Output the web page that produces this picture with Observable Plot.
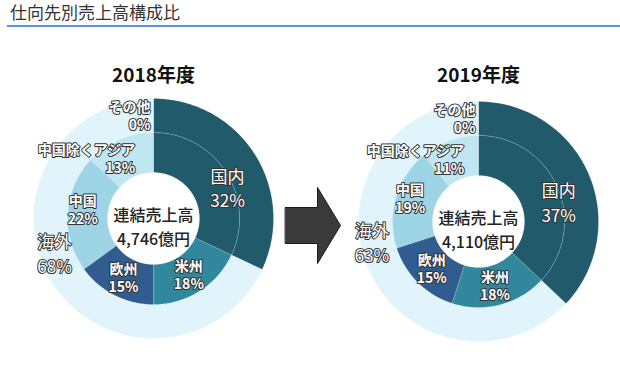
<!DOCTYPE html>
<html><head><meta charset="utf-8">
<script src="https://cdn.jsdelivr.net/npm/d3@7"></script>
<script src="https://cdn.jsdelivr.net/npm/@observablehq/plot@0.6"></script>
<style>
body{margin:0;background:#fff;font-family:"Noto Sans CJK JP",sans-serif;}
#title{height:27px;box-sizing:border-box;border-bottom:2px solid #5f93d6;margin-left:7px;padding-left:3px;font-size:17px;line-height:24px;color:#333;}
#chart svg{display:block;}
</style></head>
<body>
<div id="title">仕向先別売上高構成比</div>
<div id="chart"></div>
<script>
// ---- data ----
const fiscalYears = ["2018年度", "2019年度"];
const consolidatedSales = ["4,746億円", "4,110億円"];
const centerLabel = "連結売上高";
const outerCategories = ["国内", "海外"];
const outerShares2018 = [32, 68];
const outerShares2019 = [37, 63];
const regionCategories = ["米州", "欧州", "中国", "中国除くアジア", "その他"];
const regionShares2018 = [18, 15, 22, 13, 0];
const regionShares2019 = [18, 15, 19, 11, 0];

const outerShares = [outerShares2018, outerShares2019];
const regionShares = [regionShares2018, regionShares2019];

// ---- style / layout ----
const colors = {"国内":"#215b6b","海外":"#e2f4fb","米州":"#31889c","欧州":"#305c8f","中国":"#9dd4e6","中国除くアジア":"#c0e6f1","その他":"#dff2f9"};
const W = 620, H = 338;
const centers = [[153, 191], [478, 194]];
const r0 = 46, r1 = 86, r2 = 120;
const labelTweak = {
  "国内": {r: (r0 + r2) / 2, dx: 4, dy: 13, size: 17, anchor: "middle"},
  "海外": {r: (r1 + r2) / 2, dx: -12, dy: -21, size: 17, anchor: "middle"},
  "米州": {r: 66, dx: 0, dy: 0, size: 14, anchor: "middle"},
  "欧州": {r: 66, dx: 0, dy: 0, size: 14, anchor: "middle"},
  "中国": {r: 66, dx: -5, dy: -5, size: 14, anchor: "middle"},
  "中国除くアジア": {r: 66, dx: 8, dy: 0, size: 14, anchor: "end"},
  "その他": {r: 103, dx: -3, dy: 0, size: 14, anchor: "end"}
};

const pt = (c, pct, r) => {
  const a = pct / 100 * 2 * Math.PI;
  return [c[0] + r * Math.sin(a), c[1] - r * Math.cos(a)];
};

// ---- build segments from data ----
const segs = [];
const labels = [];
fiscalYears.forEach((yr, i) => {
  let s = 0;
  outerCategories.forEach((cat, j) => {
    const v = outerShares[i][j];
    segs.push({i, id: `${i}-o-${cat}`, cat, a0: s, a1: s + v, ri: r1, ro: r2});
    labels.push({i, cat, mid: s + v / 2, v});
    s += v;
  });
  const dom = outerShares[i][0];
  segs.push({i, id: `${i}-i-国内`, cat: "国内", a0: 0, a1: dom, ri: r0, ro: r1});
  s = dom;
  regionCategories.forEach((cat, j) => {
    const v = regionShares[i][j];
    segs.push({i, id: `${i}-i-${cat}`, cat, a0: s, a1: s + v, ri: r0, ro: r1});
    labels.push({i, cat, mid: cat === "その他" ? 0 : s + v / 2, v});
    s += v;
  });
});

const polyPts = [];
for (const d of segs) {
  if (d.a1 - d.a0 <= 0) continue;
  const c = centers[d.i];
  const n = Math.max(2, Math.ceil((d.a1 - d.a0) * 3.6));
  for (let k = 0; k <= n; k++) {
    const [x, y] = pt(c, d.a0 + (d.a1 - d.a0) * k / n, d.ro);
    polyPts.push({id: d.id, x, y, color: colors[d.cat]});
  }
  for (let k = n; k >= 0; k--) {
    const [x, y] = pt(c, d.a0 + (d.a1 - d.a0) * k / n, d.ri);
    polyPts.push({id: d.id, x, y, color: colors[d.cat]});
  }
}

const labelRows = labels.map(d => {
  const t = labelTweak[d.cat];
  const [x, y] = pt(centers[d.i], d.mid, t.r);
  return {x: x + t.dx, y: y + t.dy, text: `${d.cat}\n${d.v}%`, size: t.size, anchor: t.anchor};
});

// arrow (decoration) in layout pixels
const arrow = [[285,180],[317,180],[317,160],[340,198],[317,236],[317,216],[285,216]].map(([x,y]) => ({x, y}));

const titleRows = fiscalYears.map((t, i) => ({x: centers[i][0], y: 48, text: t}));
const centerRows = fiscalYears.map((t, i) => ({x: centers[i][0], y: centers[i][1] - 3, text: centerLabel}))
  .concat(consolidatedSales.map((t, i) => ({x: centers[i][0], y: centers[i][1] + 21, text: t})));

const textStyle = {fill: "white", stroke: "#333", strokeWidth: 2, fontFamily: "Noto Sans CJK JP"};

const chart = Plot.plot({
  width: W, height: H,
  margin: 0,
  x: {domain: [0, W], range: [0, W], axis: null},
  y: {domain: [0, H], range: [0, H], axis: null},
  color: {type: "identity"},
  style: {fontFamily: "Noto Sans CJK JP", background: "white"},
  marks: [
    Plot.line(polyPts, {x: "x", y: "y", z: "id", fill: "color", stroke: "white", strokeWidth: 0.6, strokeOpacity: 0.25, curve: "linear-closed"}),
    Plot.line(arrow, {x: "x", y: "y", fill: "#3a3a3a", stroke: "#1a1a1a", strokeWidth: 1, curve: "linear-closed"}),
    Plot.text(titleRows, {x: "x", y: "y", text: "text", fontSize: 19, fontWeight: "bold", fill: "#111"}),
    Plot.text(centerRows, {x: "x", y: "y", text: "text", fontSize: 16, fontWeight: 500, fill: "#222"}),
    Plot.text(labelRows.filter(d => d.size > 15), {x: "x", y: "y", text: "text", fontSize: 17, lineHeight: 1.45, textAnchor: "middle", ...textStyle}),
    Plot.text(labelRows.filter(d => d.size <= 15 && d.anchor === "middle"), {x: "x", y: "y", text: "text", fontSize: 14, fontWeight: "bold", lineHeight: 1.3, textAnchor: "middle", ...textStyle}),
    Plot.text(labelRows.filter(d => d.size <= 15 && d.anchor === "end"), {x: "x", y: "y", text: "text", fontSize: 14, fontWeight: "bold", lineHeight: 1.3, textAnchor: "end", ...textStyle})
  ]
});
document.getElementById("chart").appendChild(chart);
</script>
</body></html>
